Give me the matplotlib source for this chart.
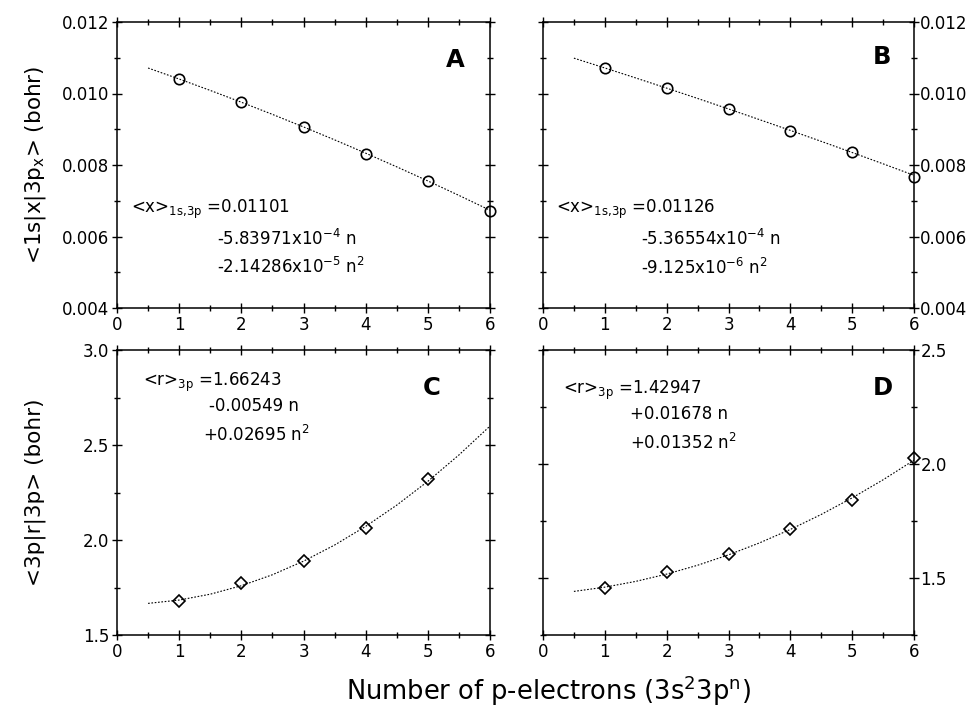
import numpy as np
import matplotlib
matplotlib.use("Agg")
import matplotlib.pyplot as plt
from matplotlib.ticker import MultipleLocator, FormatStrFormatter

plt.rcParams['font.family'] = ['DejaVu Sans']
plt.rcParams['mathtext.fontset'] = 'dejavusans'

# number of p-electrons
n_pts = [1, 2, 3, 4, 5, 6]
n_fit = [0.5, 1, 1.5, 2, 2.5, 3, 3.5, 4, 4.5, 5, 5.5, 6]

# A: <1s|x|3px>
a_pts = [0.01041, 0.00975, 0.00906, 0.00832, 0.00756, 0.00670]
a_fit = [0.010713, 0.010405, 0.010086, 0.009756, 0.009416, 0.009065,
         0.008704, 0.008331, 0.007948, 0.007554, 0.007150, 0.006735]
# B
b_pts = [0.01072, 0.01016, 0.00956, 0.00895, 0.00836, 0.00767]
b_fit = [0.010989, 0.010714, 0.010435, 0.010150, 0.009862, 0.009568,
         0.009270, 0.008968, 0.008661, 0.008349, 0.008033, 0.007712]
# C: <3p|r|3p>
c_pts = [1.679, 1.775, 1.889, 2.061, 2.319]
c_fit = [1.6664, 1.6839, 1.7148, 1.7593, 1.8171, 1.8885,
         1.9734, 2.0717, 2.1835, 2.3087, 2.4475, 2.5997]
# D
d_pts = [1.455, 1.526, 1.605, 1.713, 1.844, 2.025]
d_fit = [1.4412, 1.4598, 1.4851, 1.5171, 1.5559, 1.6015,
         1.6538, 1.7129, 1.7788, 1.8514, 1.9307, 2.0169]

W, H = 972, 709
fig = plt.figure(figsize=(W / 100, H / 100), dpi=100)


def box(x0, y0, x1, y1):
    return [x0 / W, 1 - y1 / H, (x1 - x0) / W, (y1 - y0) / H]


def px(x, y):
    return x / W, 1 - y / H


axA = fig.add_axes(box(117, 22, 490, 308))
axB = fig.add_axes(box(543, 22, 914, 308))
axC = fig.add_axes(box(117, 350, 490, 635))
axD = fig.add_axes(box(543, 350, 914, 635))


def style(ax, ylim, major, minor, fmt, right=False):
    ax.set_xlim(0, 6)
    ax.set_ylim(*ylim)
    ax.xaxis.set_major_locator(MultipleLocator(1))
    ax.xaxis.set_minor_locator(MultipleLocator(0.5))
    ax.yaxis.set_major_locator(MultipleLocator(major))
    ax.yaxis.set_minor_locator(MultipleLocator(minor))
    ax.yaxis.set_major_formatter(FormatStrFormatter(fmt))
    for s in ax.spines.values():
        s.set_linewidth(1.1)
    ax.tick_params(which='both', top=True, right=True, labelsize=12,
                   width=1.0, direction='inout')
    ax.tick_params(which='major', length=7, pad=2)
    ax.tick_params(which='minor', length=4)
    if right:
        ax.tick_params(axis='y', labelleft=False, labelright=True, pad=1)


style(axA, (0.004, 0.012), 0.002, 0.001, '%.3f')
style(axB, (0.004, 0.012), 0.002, 0.001, '%.3f', right=True)
style(axC, (1.5, 3.0), 0.5, 0.25, '%.1f')
style(axD, (1.25, 2.5), 0.5, 0.25, '%.1f', right=True)

line_kw = dict(color='black', lw=0.8, ls=(0, (1.5, 1.5)))
for ax, yf, yp, mk, ms in [(axA, a_fit, a_pts, 'o', 7.5),
                           (axB, b_fit, b_pts, 'o', 7.5),
                           (axC, c_fit, c_pts, 'D', 6.5),
                           (axD, d_fit, d_pts, 'D', 6.5)]:
    ax.plot(n_fit, yf, **line_kw)
    ax.plot(n_pts[:len(yp)], yp, ls='none', marker=mk, ms=ms, mfc='none',
            mec='black', mew=1.2, clip_on=False, zorder=5)

# panel letters
for (x, y), lab in zip([(455, 60), (882, 57), (432, 388), (883, 388)], 'ABCD'):
    fig.text(*px(x, y), lab, fontsize=17.5, fontweight='bold',
             ha='center', va='center')

eq = dict(fontsize=12, va='center', ha='left')
# A
fig.text(*px(131, 209), r'<x>$_{\mathrm{1s{,}3p}}$ =0.01101', **eq)
fig.text(*px(217, 239), r'-5.83971x10$^{-4}$ n', **eq)
fig.text(*px(217, 267), r'-2.14286x10$^{-5}$ n$^{2}$', **eq)
# B
fig.text(*px(556, 209), r'<x>$_{\mathrm{1s{,}3p}}$ =0.01126', **eq)
fig.text(*px(641, 239), r'-5.36554x10$^{-4}$ n', **eq)
fig.text(*px(641, 268), r'-9.125x10$^{-6}$ n$^{2}$', **eq)
# C
fig.text(*px(143, 382), r'<r>$_{\mathrm{3p}}$ =1.66243', **eq)
fig.text(*px(209, 406), r'-0.00549 n', **eq)
fig.text(*px(203, 435), r'+0.02695 n$^{2}$', **eq)
# D
fig.text(*px(563, 390), r'<r>$_{\mathrm{3p}}$ =1.42947', **eq)
fig.text(*px(630, 414), r'+0.01678 n', **eq)
fig.text(*px(630, 443), r'+0.01352 n$^{2}$', **eq)

# axis labels
fig.text(*px(35, 165), r'<1s|x|3p$_{\mathrm{x}}$> (bohr)', fontsize=15.5,
         rotation=90, ha='center', va='center')
fig.text(*px(35, 492), r'<3p|r|3p> (bohr)', fontsize=15.5,
         rotation=90, ha='center', va='center')
fig.text(*px(548, 691), r'Number of p-electrons (3s$^{2}$3p$^{\mathrm{n}}$)',
         fontsize=18.5, ha='center', va='center')

fig.savefig('out.png', dpi=100)
